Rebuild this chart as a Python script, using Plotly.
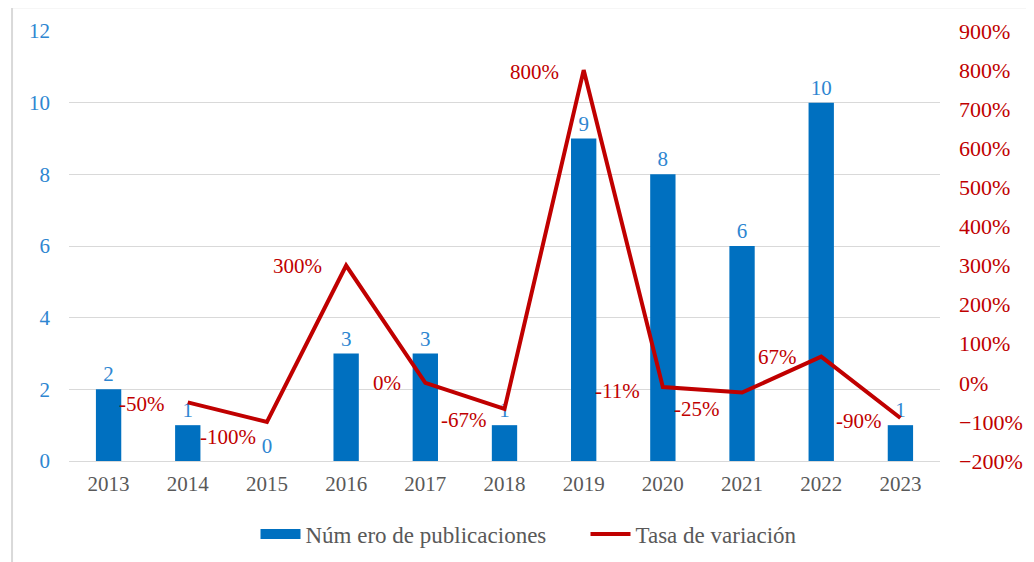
import plotly.graph_objects as go

years = ["2013", "2014", "2015", "2016", "2017", "2018", "2019", "2020", "2021", "2022", "2023"]
publicaciones = [2, 1, 0, 3, 3, 1, 9, 8, 6, 10, 1]
tasa_years = ["2014", "2015", "2016", "2017", "2018", "2019", "2020", "2021", "2022", "2023"]
tasa = [-50, -100, 300, 0, -67, 800, -11, -25, 67, -90]
label_yshift = [-2, -15, 0, 0, -11, -2, -4, -16, 0, -3]
label_xshift = [-21, -9, -22, -22, -16, -23, -21, -20, -22, -16]

BLUE = "#0070C0"
LBLUE = "#2E86D1"
RED = "#C00000"
GRAY = "#595959"
FONT = "Liberation Serif"
FS = 21

fig = go.Figure()
fig.add_trace(go.Bar(
    x=years, y=publicaciones, name="Núm ero de publicaciones",
    marker=dict(color=BLUE, line=dict(width=0)),
    text=[str(v) for v in publicaciones], textposition="outside",
    textfont=dict(color=LBLUE, size=FS, family=FONT),
    cliponaxis=False, width=0.32, yaxis="y", showlegend=False,
))
# legend swatch for bars (wide rectangle like the original)
fig.add_trace(go.Scatter(
    x=[None], y=[None], mode="lines", name="Núm ero de publicaciones",
    line=dict(color=BLUE, width=12), hoverinfo="skip",
))
fig.add_trace(go.Scatter(
    x=tasa_years, y=tasa, name="Tasa de variación", mode="lines",
    line=dict(color=RED, width=4), yaxis="y2", cliponaxis=False,
))

for yr, v, xs, ys in zip(tasa_years, tasa, label_xshift, label_yshift):
    fig.add_annotation(
        x=years.index(yr), y=v, xref="x", yref="y2", text=f"{v}%", showarrow=False,
        xanchor="right", yanchor="middle", xshift=xs, yshift=ys,
        font=dict(color=RED, size=FS, family=FONT),
    )

# outer frame
fig.add_shape(type="rect", xref="paper", yref="paper",
              x0=-0.0654, x1=1.2, y0=-0.3, y1=1.055,
              line=dict(color="#D9D9D9", width=2), fillcolor="rgba(0,0,0,0)", layer="below")

fig.update_layout(
    width=1034, height=562,
    margin=dict(l=61, r=102, t=23, b=109, autoexpand=False),
    paper_bgcolor="white", plot_bgcolor="white",
    font=dict(family=FONT, size=FS, color=GRAY),
    bargap=0.68,
    showlegend=True,
    legend=dict(orientation="h", x=0.593, xanchor="center", y=-0.17, yanchor="middle",
                font=dict(size=23, color=GRAY, family=FONT), traceorder="normal",
                itemwidth=40, bgcolor="rgba(0,0,0,0)",
                entrywidthmode="pixels", entrywidth=275),
    xaxis=dict(type="category", range=[-0.5, len(years) - 0.5], showgrid=False,
               showline=False, ticks="", automargin=False,
               tickfont=dict(color=GRAY, size=FS, family=FONT), ticklabelstandoff=8),
    yaxis=dict(range=[0, 12], dtick=2, showgrid=True, gridcolor="#D9D9D9", gridwidth=1,
               zeroline=True, zerolinecolor="#D9D9D9", zerolinewidth=1, automargin=False,
               showline=False, ticks="", tickfont=dict(color=LBLUE, size=FS, family=FONT),
               ticklabelstandoff=18),
    yaxis2=dict(range=[-200, 900], dtick=100, overlaying="y", side="right",
                showgrid=False, zeroline=False, showline=False, ticks="", automargin=False,
                ticksuffix="%", tickfont=dict(color=RED, size=22, family=FONT),
                ticklabelstandoff=18),
)

fig.write_html("out.html")
